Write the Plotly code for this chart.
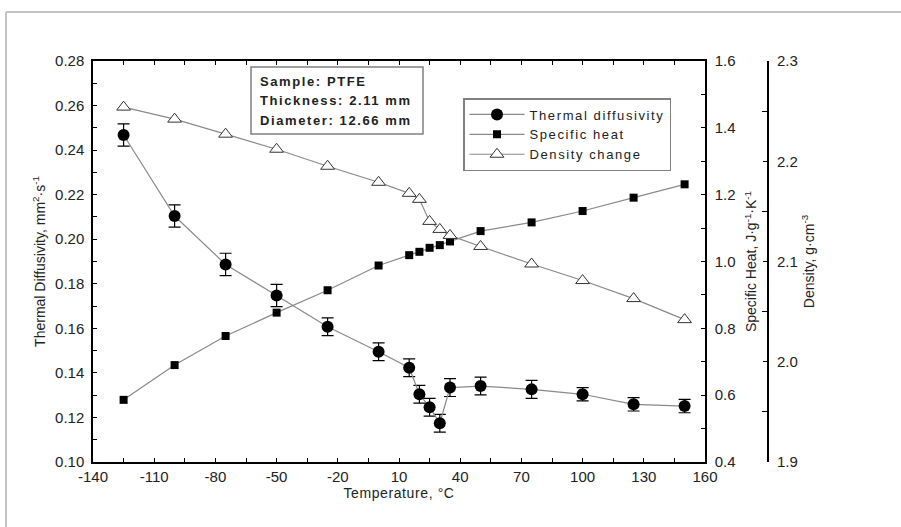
import plotly.graph_objects as go

# ---- data ----
temperature = [-125, -100, -75, -50, -25, 0, 15, 20, 25, 30, 35, 50, 75, 100, 125, 150]
thermal_diffusivity = [0.2468, 0.2104, 0.1887, 0.1747, 0.1607, 0.1495, 0.1423, 0.1304, 0.1246,
                       0.1174, 0.1334, 0.1341, 0.1326, 0.1304, 0.1259, 0.1251]
td_error = [0.005, 0.005, 0.005, 0.005, 0.004, 0.004, 0.004, 0.004, 0.004,
            0.004, 0.004, 0.004, 0.004, 0.003, 0.003, 0.003]
specific_heat = [0.586, 0.690, 0.777, 0.847, 0.914, 0.988, 1.019, 1.029, 1.041,
                 1.049, 1.060, 1.091, 1.117, 1.151, 1.191, 1.231]
density = [2.254, 2.242, 2.227, 2.212, 2.195, 2.179, 2.168, 2.162, 2.140,
           2.132, 2.126, 2.115, 2.0975, 2.081, 2.063, 2.042]

x_ticks = [-140, -110, -80, -50, -20, 10, 40, 70, 100, 130, 160]
x_tick_labels = ["-140", "-110", "-80", "-50", "-20", "10", "40", "70", "100", "130", "160"]
info_lines = ["Sample: PTFE", "Thickness: 2.11 mm", "Diameter: 12.66 mm"]
series_names = ["Thermal diffusivity", "Specific heat", "Density change"]

# ---- layout geometry (pixels) ----
W, H = 901, 527
ML, MR, MT, MB = 93, 120, 61, 65
PW, PH = W - ML - MR, H - MT - MB
PLOT_RIGHT = 705
DENS_AXIS_X = 768


def px(x):
    return (x - ML) / PW


def py(y):
    return (H - MB - y) / PH


def spaced(s, sp):
    return '<span style="letter-spacing:%spx">%s</span>' % (sp, s)


FONT = "Liberation Sans, Arial, sans-serif"
TXT = "#222222"
LINE_GREY = "#8a8a8a"

fig = go.Figure()

fig.add_trace(go.Scatter(
    x=temperature, y=thermal_diffusivity, name=spaced(series_names[0], 1.6),
    mode="lines+markers",
    line=dict(color=LINE_GREY, width=1.2),
    marker=dict(symbol="circle", size=12, color="black"),
    error_y=dict(type="data", array=td_error, visible=True, color="black",
                 thickness=1.2, width=6),
    yaxis="y",
))
fig.add_trace(go.Scatter(
    x=temperature, y=specific_heat, name=spaced(series_names[1], 1.6),
    mode="lines+markers",
    line=dict(color=LINE_GREY, width=1.2),
    marker=dict(symbol="square", size=8, color="black"),
    yaxis="y2",
))
fig.add_trace(go.Scatter(
    x=temperature, y=density, name=spaced(series_names[2], 1.6),
    mode="lines+markers",
    line=dict(color=LINE_GREY, width=1.2),
    marker=dict(symbol="triangle-up", size=12, color="white",
                line=dict(color="#333333", width=1)),
    yaxis="y3",
))

axis_common = dict(
    showline=True, linecolor="black", linewidth=1.5,
    ticks="inside", ticklen=4, tickcolor="black", tickwidth=1,
    showgrid=False, zeroline=False,
    tickfont=dict(family=FONT, size=15, color=TXT),
)

fig.update_layout(
    width=W, height=H,
    margin=dict(l=ML, r=MR, t=MT, b=MB),
    paper_bgcolor="white", plot_bgcolor="white",
    font=dict(family=FONT, size=14, color=TXT),
    showlegend=True,
    legend=dict(
        x=px(463), y=py(98), xanchor="left", yanchor="top",
        bordercolor="#808080", borderwidth=1.5, bgcolor="white",
        font=dict(family=FONT, size=13, color=TXT),
        tracegroupgap=0, itemsizing="trace", itemwidth=55,
    ),
    xaxis=dict(
        **axis_common,
        domain=[0, (PLOT_RIGHT - ML) / PW],
        range=[-140, 160], tickvals=x_ticks, ticktext=x_tick_labels,
        mirror="ticks",
        minor=dict(dtick=15, tick0=-140, ticks="inside", ticklen=4, tickcolor="black"),
        title=dict(text=spaced("Temperature, °C", 0.6),
                   font=dict(family=FONT, size=14, color=TXT), standoff=4),
    ),
    yaxis=dict(
        **axis_common,
        range=[0.10, 0.28], dtick=0.02, tick0=0.10, tickformat=".2f",
        ticklabelstandoff=4,
        minor=dict(dtick=0.01, ticks="inside", ticklen=4, tickcolor="black"),
        title=dict(text="Thermal Diffusivity, mm<sup>2</sup>·s<sup>-1</sup>",
                   font=dict(family=FONT, size=14, color=TXT), standoff=6),
    ),
    yaxis2=dict(
        **axis_common,
        overlaying="y", side="right", anchor="x",
        range=[0.4, 1.6], dtick=0.2, tick0=0.4, tickformat=".1f",
        ticklabelstandoff=5,
        minor=dict(dtick=0.1, ticks="inside", ticklen=4, tickcolor="black"),
        title=dict(text="Specific Heat, J·g<sup>-1</sup>·K<sup>-1</sup>",
                   font=dict(family=FONT, size=14, color=TXT), standoff=12),
    ),
    yaxis3=dict(
        **{k: v for k, v in axis_common.items() if k != "linewidth"},
        linewidth=2,
        overlaying="y", side="right", anchor="free", position=px(DENS_AXIS_X),
        range=[1.9, 2.3], dtick=0.1, tick0=1.9, tickformat=".1f",
        ticklabelstandoff=5,
        minor=dict(dtick=0.05, ticks="inside", ticklen=5, tickcolor="black"),
        title=dict(text="Density, g·cm<sup>-3</sup>",
                   font=dict(family=FONT, size=14, color=TXT), standoff=6),
    ),
)

# sample info box
fig.add_shape(type="rect", xref="paper", yref="paper",
              x0=px(251), x1=px(423), y0=py(134), y1=py(67),
              line=dict(color="#808080", width=1.5), fillcolor="white", layer="above")
for line_text, ycen in zip(info_lines, [81, 100.5, 120]):
    fig.add_annotation(xref="paper", yref="paper", x=px(258), y=py(ycen),
                       xanchor="left", yanchor="middle", showarrow=False,
                       text="<b>" + spaced(line_text, 1.6) + "</b>",
                       font=dict(family=FONT, size=13, color=TXT))

# outer light-grey frame (top and left edges)
fig.add_shape(type="line", xref="paper", yref="paper",
              x0=px(6), x1=px(W + 5), y0=py(12), y1=py(12),
              line=dict(color="#c4c4c4", width=2))
fig.add_shape(type="line", xref="paper", yref="paper",
              x0=px(6), x1=px(6), y0=py(12), y1=py(H + 5),
              line=dict(color="#c4c4c4", width=2))

fig.write_html("out.html")
